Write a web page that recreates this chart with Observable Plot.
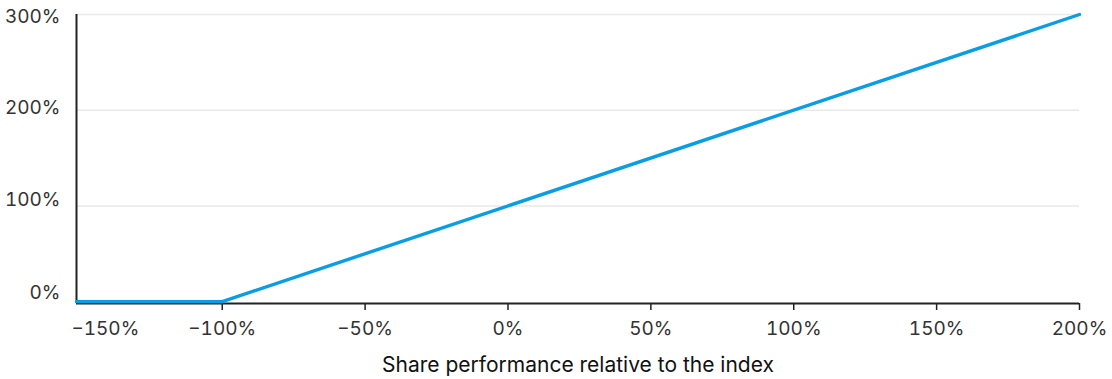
<!DOCTYPE html>
<html>
<head>
<meta charset="utf-8">
<script src="https://cdn.jsdelivr.net/npm/d3@7"></script>
<script src="https://cdn.jsdelivr.net/npm/@observablehq/plot@0.6"></script>
<style>
  html, body { margin: 0; padding: 0; background: #fff; }
  svg { display: block; }
</style>
</head>
<body>
<div id="chart"></div>
<script>
// Data
const relativePerformance = [-151, -100, 200];   // x, % vs index
const payout = [0, 0, 300];                      // y, %
const xTicks = [-100, -50, 0, 50, 100, 150, 200];
const xFirstTick = [-150];
const yTicks = [0, 100, 200, 300];
const yGrid = [100, 200, 300];
const xLabel = "Share performance relative to the index";

const data = relativePerformance.map((x, i) => ({x, y: payout[i]}));
const pct = d => `${d < 0 ? "\u2212" : ""}${Math.abs(d)}%`;

const font = "Inter, 'Liberation Sans', sans-serif";
const tickFont = 19;
const yLabelShift = {0: -9, 100: -6, 200: -2, 300: 2};

const chart = Plot.plot({
  width: 1112,
  height: 379,
  marginLeft: 76,
  marginRight: 33,
  marginTop: 14,
  marginBottom: 76,
  style: {fontFamily: font, fontSize: tickFont + "px", color: "#333", background: "#fff"},
  x: {domain: [-151, 200]},
  y: {domain: [-2, 300]},
  marks: [
    Plot.gridY(yGrid, {stroke: "#e9e9e9", strokeOpacity: 1, strokeWidth: 1.5}),
    ...yTicks.map(t => Plot.axisY([t], {tickSize: 0, tickPadding: 16, tickFormat: pct, label: null, dy: yLabelShift[t], fontSize: tickFont, fill: "#333"})),
    Plot.axisX(xTicks, {tickSize: 7, tickPadding: 11, tickFormat: pct, label: null, stroke: "#222", strokeWidth: 1.5, fontSize: tickFont, fill: "#333"}),
    Plot.axisX(xFirstTick, {tickSize: 0, tickPadding: 18, tickFormat: pct, label: null, dx: 26, fontSize: tickFont, fill: "#333"}),
    Plot.ruleX([-151], {y1: -2, y2: 300, stroke: "#222", strokeWidth: 2}),
    Plot.ruleY([-2], {stroke: "#222", strokeWidth: 2}),
    Plot.line(data, {x: "x", y: "y", stroke: "#0a9de2", strokeWidth: 3.4}),
    Plot.text([xLabel], {frameAnchor: "bottom", dy: 68, text: d => d, fontSize: 21, fill: "#111", fontFamily: font})
  ]
});
document.getElementById("chart").appendChild(chart);
</script>
</body>
</html>
